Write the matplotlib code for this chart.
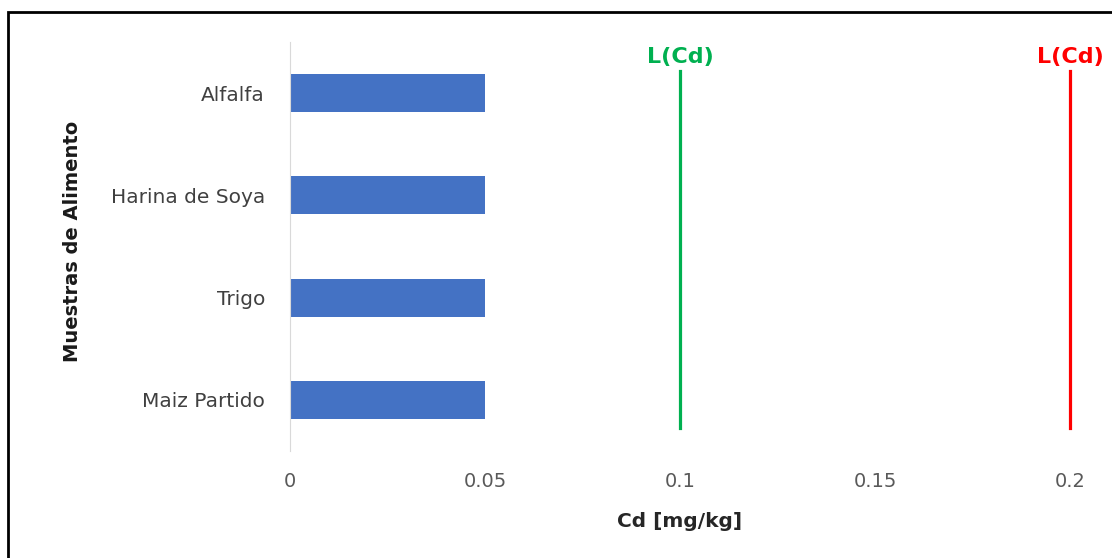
import matplotlib.pyplot as plt
from matplotlib.patches import Rectangle

plt.rcParams['font.family'] = ['DejaVu Sans']

# datos
muestras = ['Maiz Partido', 'Trigo', 'Harina de Soya', 'Alfalfa']
cd_valores = [0.05, 0.05, 0.05, 0.05]
limites = [0.1, 0.2]
limite_colores = ['#00B050', '#FF0000']
limite_texto = 'L(Cd)'
xticks = [0, 0.05, 0.1, 0.15, 0.2]
xtick_labels = ['0', '0.05', '0.1', '0.15', '0.2']

fig = plt.figure(figsize=(11.12, 5.58), dpi=100)
ax = fig.add_axes([0.2608, 0.1918, 0.7014, 0.7329])

ax.barh(range(len(muestras)), cd_valores, height=0.37, color='#4472C4')

# lineas de limite
for lim, col in zip(limites, limite_colores):
    ax.axvline(lim, ymin=0.055, ymax=0.93, color=col, linewidth=2.3, clip_on=False)
    ax.text(lim, 0.963, limite_texto, transform=ax.get_xaxis_transform(),
            ha='center', va='center', color=col, fontsize=16, fontweight='bold')

ax.set_xlim(0, 0.2)
ax.set_ylim(-0.5, len(muestras) - 0.5)
ax.set_xticks(xticks)
ax.set_xticklabels(xtick_labels)
ax.set_yticks(range(len(muestras)))
ax.set_yticklabels(muestras)
ax.tick_params(axis='x', length=0, pad=15, labelsize=14, labelcolor='#595959')
ax.tick_params(axis='y', length=0, pad=18, labelsize=14.5, labelcolor='#404040')

for s in ['top', 'right', 'bottom']:
    ax.spines[s].set_visible(False)
ax.spines['left'].set_color('#D9D9D9')

ax.set_xlabel('Cd [mg/kg]', fontsize=14.5, fontweight='bold', color='#262626')
ax.xaxis.set_label_coords(0.5, -0.148)
ax.set_ylabel('Muestras de Alimento', fontsize=14, fontweight='bold', color='#1a1a1a')
ax.yaxis.set_label_coords(-0.267, 0.513)

# marco negro
fig.patches.append(Rectangle((0.0072, -0.05), 1.1, 1.0285, transform=fig.transFigure,
                             fill=False, edgecolor='black', linewidth=2))

fig.savefig('out.png', dpi=100)
